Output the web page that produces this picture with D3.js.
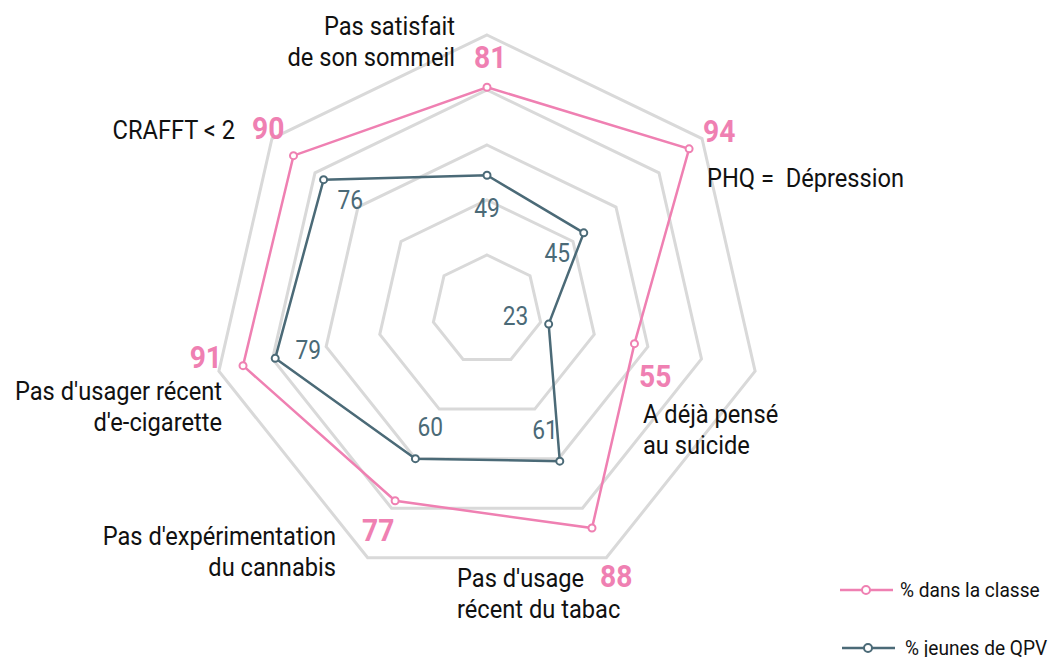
<!DOCTYPE html>
<html>
<head>
<meta charset="utf-8">
<script src="https://cdn.jsdelivr.net/npm/d3@7"></script>
<style>
  body { margin: 0; background: #fff; }
  svg { display: block; }
  text { font-family: Roboto, "Noto Sans", sans-serif; white-space: pre; }
</style>
</head>
<body>
<svg id="chart" width="1048" height="657"></svg>
<script>
const axisLabels = [
  ['Pas satisfait', 'de son sommeil'],
  ['PHQ =  Dépression'],
  ['A déjà pensé', 'au suicide'],
  ["Pas d'usage", 'récent du tabac'],
  ["Pas d'expérimentation", 'du cannabis'],
  ["Pas d'usager récent", "d'e-cigarette"],
  ['CRAFFT < 2'],
];
const classeValues = [81, 94, 55, 88, 77, 91, 90];
const qpvValues = [49, 45, 23, 61, 60, 79, 76];
const seriesNames = ['% dans la classe', '% jeunes de QPV'];
const gridLevels = [20, 40, 60, 80, 100];

// label placement, relative to the centre (x = line start/end, y = first baseline)
const labelLayout = [
  { x: -32, y: -275, anchor: 'end', nx: -13, ny: -242, nanchor: 'start' },
  { x: 220, y: -123, anchor: 'start', nx: 216, ny: -168, nanchor: 'start' },
  { x: 156, y: 113, anchor: 'start', nx: 152, ny: 77, nanchor: 'start' },
  { x: -30, y: 277, anchor: 'start', nx: 113, ny: 277, nanchor: 'start' },
  { x: -151, y: 235, anchor: 'end', nx: -125, ny: 231, nanchor: 'start' },
  { x: -265, y: 90, anchor: 'end', nx: -265, ny: 58, nanchor: 'end' },
  { x: -252, y: -171, anchor: 'end', nx: -235, ny: -171, nanchor: 'start' },
];

const colors = { classe: '#ef80b2', qpv: '#4b6a77', grid: '#d9d9d9', text: '#111' };
const cx = 487, cy = 310, radius = 275, squeeze = 0.91, lineGap = 31;

const chart = d3.select('#chart');
const r = d3.scaleLinear().domain([0, 100]).range([0, radius]);
const n = axisLabels.length;
const angle = i => i * 2 * Math.PI / n;
const px = (i, v) => r(v) * Math.sin(angle(i));
const py = (i, v) => -r(v) * Math.cos(angle(i));

const g = chart.append('g').attr('transform', `translate(${cx},${cy})`);

// condensed text helper
function squeezedText(sel, x, y, anchor, size, weight, fill, str) {
  return sel.append('text')
    .attr('transform', `translate(${x},${y}) scale(${squeeze},1)`)
    .attr('text-anchor', anchor)
    .style('font-size', `${size}px`)
    .style('font-weight', weight)
    .style('fill', fill)
    .text(str);
}

// grid
const radial = d3.lineRadial()
  .angle((d, i) => angle(i))
  .curve(d3.curveLinearClosed);

g.selectAll('.grid')
  .data(gridLevels)
  .enter()
  .append('path')
  .attr('class', 'grid')
  .attr('d', lvl => radial.radius(() => r(lvl))(d3.range(n)))
  .style('fill', 'none')
  .style('stroke', colors.grid)
  .style('stroke-width', 3);

// series
const series = [
  { key: 'classe', values: classeValues },
  { key: 'qpv', values: qpvValues },
];

series.forEach(s => {
  g.append('path')
    .attr('d', radial.radius(d => r(d))(s.values))
    .style('fill', 'none')
    .style('stroke', colors[s.key])
    .style('stroke-width', 2.5);

  g.selectAll(`.pt-${s.key}`)
    .data(s.values)
    .enter()
    .append('circle')
    .attr('class', `pt-${s.key}`)
    .attr('cx', (d, i) => px(i, d))
    .attr('cy', (d, i) => py(i, d))
    .attr('r', 3.5)
    .style('fill', '#fff')
    .style('stroke', colors[s.key])
    .style('stroke-width', 2);
});

// qpv values, inside their points
qpvValues.forEach((v, i) => {
  const inner = v - 34 / radius * 100;
  squeezedText(g, px(i, inner), py(i, inner) + 8, 'middle', 25, 400, colors.qpv, v);
});

// axis labels + class values
axisLabels.forEach((lines, i) => {
  const l = labelLayout[i];
  lines.forEach((line, j) => {
    squeezedText(g, l.x, l.y + j * lineGap, l.anchor, 26, 400, colors.text, line);
  });
  squeezedText(g, l.nx, l.ny, l.nanchor, 31, 700, colors.classe, classeValues[i]);
});

// legend
const legend = chart.append('g');
const legendRows = [
  { key: 'classe', y: 590, x0: 840, tx: 900 },
  { key: 'qpv', y: 648, x0: 842, tx: 905 },
];
legendRows.forEach((row, i) => {
  legend.append('line')
    .attr('x1', row.x0).attr('x2', row.x0 + 53)
    .attr('y1', row.y).attr('y2', row.y)
    .style('stroke', colors[row.key])
    .style('stroke-width', 2.5);
  legend.append('circle')
    .attr('cx', row.x0 + 26).attr('cy', row.y).attr('r', 4)
    .style('fill', '#fff')
    .style('stroke', colors[row.key])
    .style('stroke-width', 2);
  squeezedText(legend, row.tx, row.y + 7, 'start', 21, 400, colors.text, seriesNames[i]);
});
</script>
</body>
</html>
